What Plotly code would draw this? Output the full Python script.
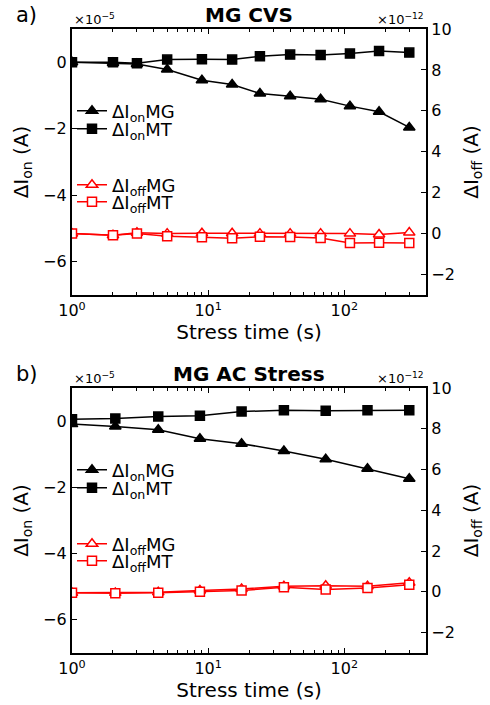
import plotly.graph_objects as go

# ---- data ----
t_cvs = [1, 2, 3, 5, 9, 15, 24, 40, 67, 110, 180, 300]
ion_mg_cvs = [0.0, -0.02, -0.05, -0.22, -0.54, -0.67, -0.94, -1.02, -1.11, -1.32, -1.49, -1.96]
ion_mt_cvs = [0.0, 0.0, -0.03, 0.08, 0.09, 0.08, 0.18, 0.23, 0.22, 0.26, 0.34, 0.29]
ioff_mg_cvs = [0.0, -0.08, 0.04, 0.0, 0.02, 0.02, 0.0, 0.0, 0.0, 0.0, -0.04, 0.05]
ioff_mt_cvs = [0.0, -0.08, 0.0, -0.13, -0.18, -0.23, -0.15, -0.16, -0.21, -0.46, -0.45, -0.46]

t_ac = [1, 2.08, 4.3, 8.7, 17.6, 36, 73, 148, 300]
ion_mg_ac = [-0.09, -0.16, -0.26, -0.53, -0.68, -0.90, -1.15, -1.44, -1.74]
ion_mt_ac = [0.06, 0.08, 0.14, 0.16, 0.29, 0.33, 0.31, 0.33, 0.33]
ioff_mg_ac = [-0.05, -0.05, -0.02, 0.07, 0.14, 0.27, 0.30, 0.27, 0.45]
ioff_mt_ac = [-0.05, -0.07, -0.05, 0.01, 0.07, 0.22, 0.11, 0.19, 0.35]

x_tickvals = [1, 10, 100]
x_ticktext = ["10<sup>0</sup>", "10<sup>1</sup>", "10<sup>2</sup>"]
x_minor = [2, 3, 4, 5, 6, 7, 8, 9, 20, 30, 40, 50, 60, 70, 80, 90, 200, 300]
left_ticks = [-6, -4, -2, 0]
right_ticks = [-2, 0, 2, 4, 6, 8, 10]

FONT = "DejaVu Sans"
W, H = 490, 705
ML, MR, MT, MB = 72, 64, 29, 52
PH = H - MT - MB

def py(px):
    return 1 - (px - MT) / PH

def pxx(px):
    return (px - ML) / (W - ML - MR)

fig = go.Figure()

def add(x, y, name, xa, ya, sym, color, fill, legend):
    fig.add_trace(go.Scatter(
        x=x, y=y, name=name, xaxis=xa, yaxis=ya, mode="lines+markers",
        line=dict(color=color, width=1.5),
        marker=dict(symbol=sym, size=10 if "triangle" in sym else 9, color=fill,
                    line=dict(color=color, width=1.5)),
        legend=legend))

add(t_cvs, ion_mg_cvs, "ΔI<sub>on</sub>MG", "x", "y", "triangle-up", "black", "black", "legend")
add(t_cvs, ion_mt_cvs, "ΔI<sub>on</sub>MT", "x", "y", "square", "black", "black", "legend2")
add(t_cvs, ioff_mg_cvs, "ΔI<sub>off</sub>MG", "x", "y2", "triangle-up", "red", "white", "legend3")
add(t_cvs, ioff_mt_cvs, "ΔI<sub>off</sub>MT", "x", "y2", "square", "red", "white", "legend4")

add(t_ac, ion_mg_ac, "ΔI<sub>on</sub>MG", "x2", "y3", "triangle-up", "black", "black", "legend5")
add(t_ac, ion_mt_ac, "ΔI<sub>on</sub>MT", "x2", "y3", "square", "black", "black", "legend6")
add(t_ac, ioff_mg_ac, "ΔI<sub>off</sub>MG", "x2", "y4", "triangle-up", "red", "white", "legend7")
add(t_ac, ioff_mt_ac, "ΔI<sub>off</sub>MT", "x2", "y4", "square", "red", "white", "legend8")

tickfont = dict(family=FONT, size=16, color="black")
titlefont = dict(family=FONT, size=20, color="black")

def xax(anchor):
    return dict(type="log", range=[0, 2.6], anchor=anchor, domain=[0, 1],
                tickvals=x_tickvals, ticktext=x_ticktext, ticks="inside", ticklen=5,
                tickwidth=1.2, tickcolor="black",
                minor=dict(tickvals=x_minor, ticks="inside", ticklen=3, tickcolor="black", tickwidth=1),
                showline=True, linewidth=2.2, linecolor="black", mirror="ticks",
                showgrid=False, zeroline=False, tickfont=tickfont,
                title=dict(text="Stress time (s)", font=titlefont, standoff=1))

def yleft(domain, anchor):
    return dict(domain=domain, range=[-7, 1], anchor=anchor, tickvals=left_ticks,
                ticks="inside", ticklen=5, tickwidth=1.2, tickcolor="black",
                showline=True, linewidth=2.2, linecolor="black",
                showgrid=False, zeroline=False, tickfont=tickfont,
                title=dict(text="ΔI<sub>on</sub> (A)", font=titlefont, standoff=9))

def yright(overlay, anchor):
    return dict(overlaying=overlay, side="right", range=[-3, 10], anchor=anchor,
                tickvals=right_ticks, ticks="inside", ticklen=5, tickwidth=1.2, tickcolor="black",
                showline=True, linewidth=2.2, linecolor="black",
                showgrid=False, zeroline=False, tickfont=tickfont,
                title=dict(text="ΔI<sub>off</sub> (A)", font=titlefont, standoff=10))

top_dom = [py(295), 1]
bot_dom = [0, py(388)]

def leg(ypx):
    return dict(x=pxx(72), y=py(ypx), xanchor="left", yanchor="middle",
                bgcolor="rgba(0,0,0,0)", font=dict(family=FONT, size=18, color="black"),
                itemwidth=30, tracegroupgap=0, borderwidth=0)

legend_rows = [111, 129, 185, 202, 470, 488, 544, 561]
legends = {("legend" if i == 0 else f"legend{i+1}"): leg(r) for i, r in enumerate(legend_rows)}

fig.update_layout(
    width=W, height=H, margin=dict(l=ML, r=MR, t=MT, b=MB),
    paper_bgcolor="white", plot_bgcolor="white",
    font=dict(family=FONT, color="black"),
    xaxis=xax("y"), yaxis=yleft(top_dom, "x"), yaxis2=yright("y", "x"),
    xaxis2=xax("y3"), yaxis3=yleft(bot_dom, "x2"), yaxis4=yright("y3", "x2"),
    showlegend=True,
    **legends,
)

ann = []
for title, label, ytop in [("MG CVS", "a)", 29), ("MG AC Stress", "b)", 388)]:
    ann.append(dict(text=f"<b>{title}</b>", x=0.5, y=py(ytop - 14), xref="paper", yref="paper",
                    showarrow=False, font=dict(family=FONT, size=20, color="black"),
                    xanchor="center", yanchor="middle"))
    ann.append(dict(text=label, x=pxx(14), y=py(ytop - 14), xref="paper", yref="paper",
                    showarrow=False, font=dict(family=FONT, size=21, color="black"),
                    xanchor="left", yanchor="middle"))
    ann.append(dict(text="×10<sup>−5</sup>", x=0, y=py(ytop - 10), xref="paper", yref="paper",
                    showarrow=False, font=dict(family=FONT, size=13, color="black"),
                    xanchor="left", yanchor="middle"))
    ann.append(dict(text="×10<sup>−12</sup>", x=1, y=py(ytop - 10), xref="paper", yref="paper",
                    showarrow=False, font=dict(family=FONT, size=13, color="black"),
                    xanchor="right", yanchor="middle"))
fig.update_layout(annotations=ann)

fig.write_html("out.html", config={"displayModeBar": False},
               post_script="document.body.style.margin='0px';")
